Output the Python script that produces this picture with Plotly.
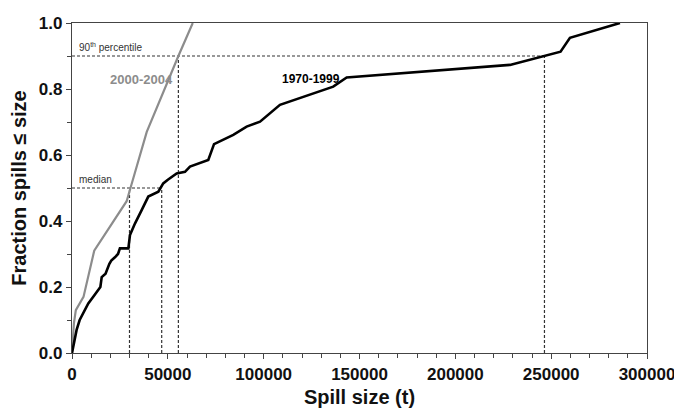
import plotly.graph_objects as go

# 1970-1999 cumulative distribution
x_7099 = [0, 1000, 2400, 4000, 5900, 8500, 11000, 13700, 14800, 15500, 17500, 19500, 20500,
          22400, 24000, 25000, 29400, 30260, 32900, 36350, 39800, 45050, 47600, 50000, 54600,
          58950, 61560, 71100, 74100, 84150, 91100, 98100, 108500, 136300, 143300, 228500,
          245900, 254900, 259800, 285900]
y_7099 = [0, 0.035, 0.07, 0.1, 0.12, 0.15, 0.17, 0.19, 0.2, 0.23, 0.24, 0.27, 0.28,
          0.29, 0.3, 0.317, 0.317, 0.358, 0.393, 0.433, 0.474, 0.489, 0.514, 0.525, 0.544,
          0.549, 0.565, 0.585, 0.633, 0.661, 0.686, 0.701, 0.752, 0.807, 0.835, 0.873,
          0.9, 0.913, 0.955, 1.0]

# 2000-2004 cumulative distribution
x_0004 = [0, 1000, 2000, 6000, 11600, 28500, 31000, 39000, 55500, 63000]
y_0004 = [0, 0.09, 0.13, 0.17, 0.31, 0.46, 0.51, 0.67, 0.9, 1.0]

# percentile markers
median_level = 0.5
p90_level = 0.9
median_0004 = 30000
median_7099 = 46800
p90_0004 = 55500
p90_7099 = 246500

font_family = "Liberation Sans, Arial, sans-serif"
gray = "#8c8c8c"
dot_style = dict(color="#333333", width=1.2, dash="3px,2px")

fig = go.Figure()

# dotted guide lines
fig.add_trace(go.Scatter(x=[0, median_7099], y=[median_level, median_level], mode="lines",
                         line=dot_style, hoverinfo="skip", showlegend=False))
fig.add_trace(go.Scatter(x=[0, p90_7099], y=[p90_level, p90_level], mode="lines",
                         line=dot_style, hoverinfo="skip", showlegend=False))
for xv, lvl in [(median_0004, median_level), (median_7099, median_level),
                (p90_0004, p90_level), (p90_7099, p90_level)]:
    fig.add_trace(go.Scatter(x=[xv, xv], y=[0, lvl], mode="lines",
                             line=dot_style, hoverinfo="skip", showlegend=False))

fig.add_trace(go.Scatter(x=x_0004, y=y_0004, mode="lines", name="2000-2004",
                         line=dict(color=gray, width=2.2), showlegend=False))
fig.add_trace(go.Scatter(x=x_7099, y=y_7099, mode="lines", name="1970-1999",
                         line=dict(color="black", width=2.6), showlegend=False))

fig.add_annotation(x=2500, y=0.928, text="90<sup>th</sup> percentile", showarrow=False,
                   xanchor="left", yanchor="middle",
                   font=dict(family=font_family, size=10, color="#333333"))
fig.add_annotation(x=2500, y=0.526, text="median", showarrow=False,
                   xanchor="left", yanchor="middle",
                   font=dict(family=font_family, size=10, color="#333333"))
fig.add_annotation(x=36000, y=0.83, text="<b>2000-2004</b>", showarrow=False,
                   xanchor="center", yanchor="middle",
                   font=dict(family=font_family, size=13, color=gray))
fig.add_annotation(x=124500, y=0.83, text="<b>1970-1999</b>", showarrow=False,
                   xanchor="center", yanchor="middle",
                   font=dict(family=font_family, size=12, color="black"))

axis_common = dict(showline=True, linecolor="#444444", linewidth=1.2, mirror=True,
                   showgrid=False, zeroline=False, ticks="outside", ticklen=5,
                   tickwidth=1, tickcolor="#444444", ticklabeloverflow="allow",
                   automargin=False,
                   tickfont=dict(family=font_family, size=17, color="#111111", weight="bold"))

fig.update_xaxes(range=[0, 300000], dtick=50000, tickformat="d",
                 minor=dict(dtick=10000, ticks="outside", ticklen=4, tickcolor="#444444"),
                 title=dict(text="<b>Spill size (t)</b>", standoff=8,
                            font=dict(family=font_family, size=20, color="#111111")),
                 **axis_common)
fig.update_yaxes(range=[0, 1.0], dtick=0.2, tickformat=".1f",
                 minor=dict(dtick=0.1, ticks="outside", ticklen=4, tickcolor="#444444"),
                 title=dict(text="<b>Fraction spills ≤ size</b>", standoff=6,
                            font=dict(family=font_family, size=20, color="#111111")),
                 **axis_common)

fig.update_layout(width=674, height=408, margin=dict(l=72, r=27, t=23, b=55),
                  plot_bgcolor="white", paper_bgcolor="white")

fig.write_html("out.html")
